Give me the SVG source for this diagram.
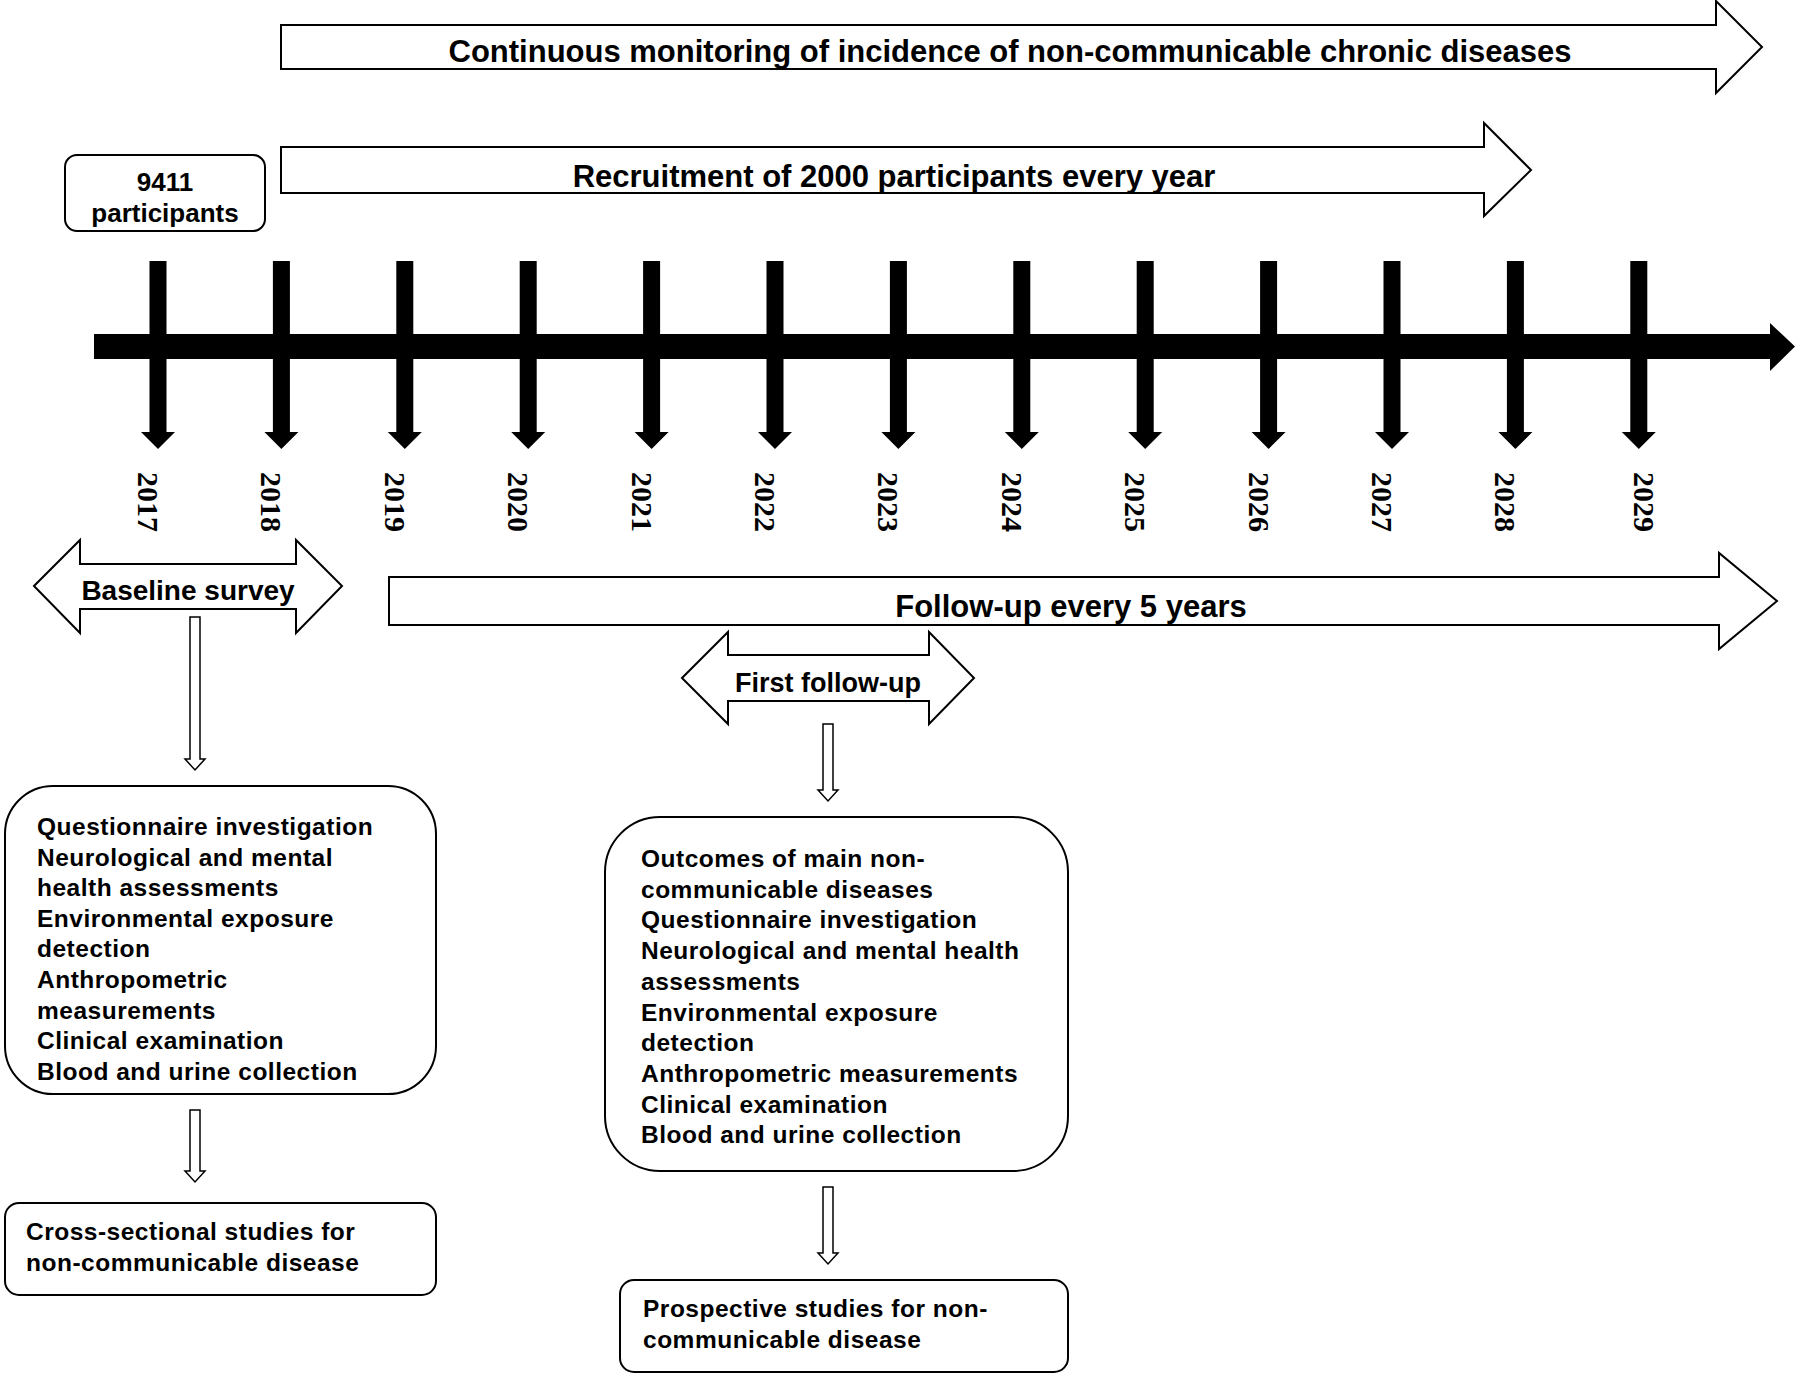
<svg xmlns="http://www.w3.org/2000/svg" width="1800" height="1379" viewBox="0 0 1800 1379">
<defs>
<style>
.shape{fill:#fff;stroke:#000;stroke-width:2;stroke-linejoin:miter}
.box{fill:#fff;stroke:#000;stroke-width:2}
.lbl{font-family:"Liberation Sans",Arial,sans-serif;font-weight:bold;fill:#000}
.big{font-size:31px}
.mid{font-size:28px}
.body{font-size:24.5px;letter-spacing:0.5px}
.yr{font-family:"Liberation Serif","Times New Roman",serif;font-weight:bold;font-size:30px;fill:#000}
.conn{fill:#fff;stroke:#000;stroke-width:1.5}
</style>
</defs>
<rect width="1800" height="1379" fill="#fff"/>

<g id="monitoring">
<polygon class="shape" points="281,25 1716,25 1716,1 1762,47 1716,93 1716,69 281,69"/>
<text class="lbl big" x="1010" y="62" text-anchor="middle">Continuous monitoring of incidence of non-communicable chronic diseases</text>
</g>

<g id="recruitment">
<polygon class="shape" points="281,147 1484,147 1484,123 1531,170 1484,216 1484,193 281,193"/>
<text class="lbl big" x="894" y="187" text-anchor="middle">Recruitment of 2000 participants every year</text>
</g>

<g id="participants">
<rect class="box" x="65" y="155" width="200" height="76" rx="12"/>
<text class="lbl" font-size="26" x="165" y="191" text-anchor="middle">9411</text>
<text class="lbl" font-size="26" x="165" y="222" text-anchor="middle">participants</text>
</g>

<g id="timeline">
<polygon fill="#000" points="94,334 1770,334 1770,323 1795,346.5 1770,371 1770,359 94,359"/>
<g id="ticks" fill="#000">
<path d="M149.5,261h17v171h8.5l-17,17l-17,-17h8.5z"/>
<path d="M272.9,261h17v171h8.5l-17,17l-17,-17h8.5z"/>
<path d="M396.3,261h17v171h8.5l-17,17l-17,-17h8.5z"/>
<path d="M519.7,261h17v171h8.5l-17,17l-17,-17h8.5z"/>
<path d="M643.1,261h17v171h8.5l-17,17l-17,-17h8.5z"/>
<path d="M766.5,261h17v171h8.5l-17,17l-17,-17h8.5z"/>
<path d="M889.9,261h17v171h8.5l-17,17l-17,-17h8.5z"/>
<path d="M1013.3,261h17v171h8.5l-17,17l-17,-17h8.5z"/>
<path d="M1136.7,261h17v171h8.5l-17,17l-17,-17h8.5z"/>
<path d="M1260.1,261h17v171h8.5l-17,17l-17,-17h8.5z"/>
<path d="M1383.5,261h17v171h8.5l-17,17l-17,-17h8.5z"/>
<path d="M1506.9,261h17v171h8.5l-17,17l-17,-17h8.5z"/>
<path d="M1630.3,261h17v171h8.5l-17,17l-17,-17h8.5z"/>
</g>
<g id="years">
<text class="yr" transform="translate(138,472) rotate(90)">2017</text>
<text class="yr" transform="translate(261.4,472) rotate(90)">2018</text>
<text class="yr" transform="translate(384.8,472) rotate(90)">2019</text>
<text class="yr" transform="translate(508.2,472) rotate(90)">2020</text>
<text class="yr" transform="translate(631.6,472) rotate(90)">2021</text>
<text class="yr" transform="translate(755,472) rotate(90)">2022</text>
<text class="yr" transform="translate(878.4,472) rotate(90)">2023</text>
<text class="yr" transform="translate(1001.8,472) rotate(90)">2024</text>
<text class="yr" transform="translate(1125.2,472) rotate(90)">2025</text>
<text class="yr" transform="translate(1248.6,472) rotate(90)">2026</text>
<text class="yr" transform="translate(1372,472) rotate(90)">2027</text>
<text class="yr" transform="translate(1495.4,472) rotate(90)">2028</text>
<text class="yr" transform="translate(1634,472) rotate(90)">2029</text>
</g>
</g>

<g id="baseline-survey">
<polygon class="shape" points="34,586 80,540 80,564 296,564 296,540 342,586 296,633 296,609 80,609 80,633"/>
<text class="lbl mid" x="188" y="600" text-anchor="middle">Baseline survey</text>
</g>

<g id="follow-up">
<polygon class="shape" points="389,577 1719,577 1719,553 1777,601 1719,649 1719,625 389,625"/>
<text class="lbl big" x="1071" y="617" text-anchor="middle">Follow-up every 5 years</text>
</g>

<g id="first-follow-up">
<polygon class="shape" points="682,678 728,632 728,655 929,655 929,632 974,678 929,724 929,701 728,701 728,724"/>
<text class="lbl" font-size="27" x="828" y="692" text-anchor="middle">First follow-up</text>
</g>

<g id="baseline-items">
<rect class="box" x="5" y="786" width="431" height="308" rx="48"/>
<text class="lbl body">
<tspan x="37" y="835">Questionnaire investigation</tspan>
<tspan x="37" y="865.6">Neurological and mental</tspan>
<tspan x="37" y="896.2">health assessments</tspan>
<tspan x="37" y="926.8">Environmental exposure</tspan>
<tspan x="37" y="957.4">detection</tspan>
<tspan x="37" y="988">Anthropometric</tspan>
<tspan x="37" y="1018.6">measurements</tspan>
<tspan x="37" y="1049.2">Clinical examination</tspan>
<tspan x="37" y="1079.8">Blood and urine collection</tspan>
</text>
</g>

<g id="cross-sectional">
<rect class="box" x="5" y="1203" width="431" height="92" rx="14"/>
<text class="lbl body">
<tspan x="26" y="1240">Cross-sectional studies for</tspan>
<tspan x="26" y="1271">non-communicable disease</tspan>
</text>
</g>

<g id="follow-up-items">
<rect class="box" x="605" y="817" width="463" height="354" rx="55"/>
<text class="lbl body">
<tspan x="641" y="867">Outcomes of main non-</tspan>
<tspan x="641" y="897.7">communicable diseases</tspan>
<tspan x="641" y="928.4">Questionnaire investigation</tspan>
<tspan x="641" y="959.1">Neurological and mental health</tspan>
<tspan x="641" y="989.8">assessments</tspan>
<tspan x="641" y="1020.5">Environmental exposure</tspan>
<tspan x="641" y="1051.2">detection</tspan>
<tspan x="641" y="1081.9">Anthropometric measurements</tspan>
<tspan x="641" y="1112.6">Clinical examination</tspan>
<tspan x="641" y="1143.3">Blood and urine collection</tspan>
</text>
</g>

<g id="prospective">
<rect class="box" x="620" y="1280" width="448" height="92" rx="14"/>
<text class="lbl body">
<tspan x="643" y="1317">Prospective studies for non-</tspan>
<tspan x="643" y="1348">communicable disease</tspan>
</text>
</g>

<g id="connectors">
<path class="conn" d="M190,617h10v142h5l-10,11l-10,-11h5z"/>
<path class="conn" d="M190,1110h10v61h5l-10,11l-10,-11h5z"/>
<path class="conn" d="M823,724h10v66h5l-10,11l-10,-11h5z"/>
<path class="conn" d="M823,1187h10v66h5l-10,11l-10,-11h5z"/>
</g>
</svg>
